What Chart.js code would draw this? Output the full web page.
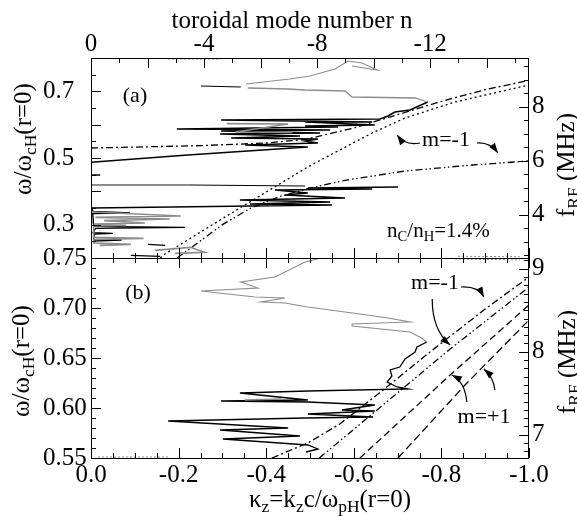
<!DOCTYPE html>
<html>
<head>
<meta charset="utf-8">
<script src="https://cdn.jsdelivr.net/npm/chart.js@4.4.1/dist/chart.umd.min.js"></script>
<style>
  body { margin: 0; background: #fff; }
  #wrap { position: relative; width: 577px; height: 516px; font-family: "Liberation Serif", "Times New Roman", serif; color: #000; }
  canvas { position: absolute; left: 0; top: 0; }
  .lbl { position: absolute; white-space: nowrap; line-height: 1; }
  .ctr { transform: translate(-50%, -50%); }
  .rot { transform: translate(-50%, -50%) rotate(-90deg); }
  .mid { transform: translateY(-50%); }
  sub { font-size: 70%; vertical-align: -0.3em; line-height: 0; }
</style>
</head>
<body>
<div id="wrap">
  <canvas id="chart-a" width="577" height="516"></canvas>
  <canvas id="chart-b" width="577" height="516"></canvas>

  <div class="lbl ctr" style="left:292px; top:19px; font-size:25px">toroidal mode number n</div>
  <div class="lbl ctr" style="left:330px; top:498px; font-size:25px">κ<sub>z</sub>=k<sub>z</sub>c/ω<sub>pH</sub>(r=0)</div>
  <div class="lbl rot" style="left:22px; top:139px; font-size:25px">ω/ω<sub>cH</sub>(r=0)</div>
  <div class="lbl rot" style="left:20px; top:361px; font-size:25px">ω/ω<sub>cH</sub>(r=0)</div>
  <div class="lbl rot" style="left:565px; top:165px; font-size:25px">f<sub>RF</sub> (MHz)</div>
  <div class="lbl rot" style="left:566px; top:362px; font-size:25px">f<sub>RF</sub> (MHz)</div>

  <div class="lbl ctr" style="left:135px; top:95px; font-size:22px">(a)</div>
  <div class="lbl ctr" style="left:138px; top:292px; font-size:22px">(b)</div>
  <div class="lbl ctr" style="left:446px; top:139px; font-size:22px">m=-1</div>
  <div class="lbl mid" style="left:387px; top:230px; font-size:21px">n<sub>C</sub>/n<sub>H</sub>=1.4%</div>
  <div class="lbl ctr" style="left:435px; top:282px; font-size:22px">m=-1</div>
  <div class="lbl ctr" style="left:484px; top:416px; font-size:22px">m=+1</div>
</div>

<script>
// axis ticks
const kappaTicks = [0, -0.2, -0.4, -0.6, -0.8, -1.0];
const nTicks = [0, -4, -8, -12];
const aOmegaTicks = [0.3, 0.5, 0.7];
const aFreqTicks = [4, 6, 8];
const bOmegaTicks = [0.55, 0.60, 0.65, 0.70, 0.75];
const bFreqTicks = [7, 8, 9];

// panel (a): [kz, omega] pairs
const aUpperDashDot = [[0, 0.530], [-0.25, 0.537], [-0.40, 0.545], [-0.49, 0.556], [-0.60, 0.590], [-0.70, 0.630], [-0.80, 0.670], [-0.90, 0.705], [-1.0, 0.733]];
const aDotted = [[-0.158, 0.200], [-0.171, 0.214], [-0.336, 0.347], [-0.491, 0.470], [-0.546, 0.509], [-0.642, 0.575], [-0.717, 0.620], [-0.831, 0.668], [-1.0, 0.719]];
const aLowerDashDot = [[-0.196, 0.200], [-0.205, 0.208], [-0.30, 0.300], [-0.365, 0.350], [-0.432, 0.385], [-0.495, 0.408], [-0.58, 0.433], [-0.717, 0.461], [-0.87, 0.479], [-1.0, 0.491]];

const aGrayTop = [[-0.354, 0.722], [-0.454, 0.737], [-0.500, 0.746], [-0.557, 0.767], [-0.587, 0.791], [-0.619, 0.785], [-0.653, 0.764], [-0.596, 0.776]];
const aBlackTop = [[-0.251, 0.716], [-0.342, 0.713]];
const aGrayMid = [[-0.358, 0.710], [-0.450, 0.707], [-0.489, 0.704], [-0.580, 0.701], [-0.596, 0.683], [-0.740, 0.680], [-0.769, 0.668]];
const aBlackMid = [[-0.769, 0.668], [-0.728, 0.644], [-0.694, 0.638], [-0.678, 0.626], [-0.660, 0.617], [-0.297, 0.614], [-0.642, 0.608],
  [-0.489, 0.608], [-0.648, 0.599], [-0.489, 0.596], [-0.564, 0.593], [-0.196, 0.587], [-0.546, 0.584], [-0.297, 0.581], [-0.523, 0.575],
  [-0.295, 0.572], [-0.477, 0.566], [-0.320, 0.560], [-0.518, 0.557], [-0.489, 0.551], [-0.518, 0.545], [-0.352, 0.539], [-0.495, 0.533],
  [-0.221, 0.509], [0, 0.487]];
const aGrayMidLow = [[-0.31, 0.603], [-0.45, 0.602], [-0.33, 0.578], [-0.46, 0.577]];
const aBlackShort = [[0, 0.449], [-0.021, 0.449]];
const aGrayLine = [[0, 0.419], [-0.226, 0.419]];
const aBlackLine = [[-0.226, 0.419], [-0.489, 0.416]];
const aBlackLow = [[-0.701, 0.413], [-0.495, 0.410], [-0.642, 0.407], [-0.420, 0.404], [-0.495, 0.395], [-0.443, 0.389], [-0.580, 0.380],
  [-0.340, 0.374], [-0.546, 0.368], [-0.363, 0.362], [-0.550, 0.359], [0, 0.350], [-0.005, 0.340], [-0.089, 0.335], [-0.004, 0.333],
  [-0.006, 0.295], [-0.215, 0.292], [-0.010, 0.289], [-0.005, 0.276], [-0.050, 0.274], [-0.008, 0.272], [-0.006, 0.256],
  [-0.070, 0.254], [-0.006, 0.251]];
const aGrayLow = [[-0.003, 0.338], [-0.205, 0.326], [-0.010, 0.322], [-0.180, 0.317], [-0.030, 0.312], [-0.123, 0.305], [-0.006, 0.302],
  [-0.080, 0.298], [-0.006, 0.296], [-0.006, 0.262], [-0.120, 0.259], [-0.006, 0.256], [-0.006, 0.245], [-0.091, 0.241], [-0.020, 0.238]];
const aBlackBottom1 = [[-0.130, 0.241], [-0.169, 0.238]];
const aBlackBottom2 = [[-0.091, 0.208], [-0.158, 0.205]];
const aGrayBottom = [[-0.146, 0.223], [-0.226, 0.232], [-0.260, 0.217], [-0.192, 0.214]];
const aEdgeTop = [[-0.176, 0.797], [-0.297, 0.797]];
const aEdgeBottom = [[-0.838, 0.205], [-0.979, 0.204]];

// panel (b)
const bDashDot1 = [[-0.413, 0.550], [-0.495, 0.565], [-0.568, 0.584], [-0.667, 0.618], [-0.774, 0.656], [-0.900, 0.699], [-1.0, 0.731]];
const bDashDot2 = [[-0.521, 0.550], [-0.546, 0.559], [-0.683, 0.609], [-0.820, 0.659], [-1.0, 0.721]];
const bDashed1 = [[-0.614, 0.550], [-0.820, 0.633], [-1.0, 0.703]];
const bDashed2 = [[-0.701, 0.550], [-0.854, 0.623], [-1.0, 0.688]];

const bGray = [[-0.534, 0.751], [-0.489, 0.746], [-0.420, 0.731], [-0.342, 0.726], [-0.381, 0.720], [-0.251, 0.717], [-0.374, 0.711],
  [-0.443, 0.710], [-0.388, 0.706], [-0.443, 0.705], [-0.495, 0.701], [-0.614, 0.694], [-0.678, 0.690], [-0.728, 0.686], [-0.596, 0.684],
  [-0.596, 0.682], [-0.728, 0.676], [-0.751, 0.671], [-0.767, 0.666]];
const bBlack = [[-0.767, 0.666], [-0.744, 0.661], [-0.740, 0.656], [-0.717, 0.649], [-0.705, 0.641], [-0.683, 0.638], [-0.687, 0.632],
  [-0.676, 0.626], [-0.699, 0.621], [-0.724, 0.619], [-0.495, 0.617], [-0.340, 0.615], [-0.450, 0.610], [-0.495, 0.608], [-0.297, 0.607],
  [-0.495, 0.606], [-0.648, 0.603], [-0.573, 0.598], [-0.648, 0.597], [-0.495, 0.594], [-0.644, 0.591], [-0.489, 0.590], [-0.176, 0.587],
  [-0.450, 0.580], [-0.295, 0.578], [-0.477, 0.572], [-0.301, 0.569], [-0.495, 0.563], [-0.518, 0.559], [-0.491, 0.556]];
const bGrayLow = [[-0.351, 0.608], [-0.434, 0.609]];
const bEdgeTop = [[-0.831, 0.749], [-0.979, 0.748]];
const bEdgeBottom = [[-0.016, 0.551], [-0.180, 0.551]];

const SERIF = '"Liberation Serif", "Times New Roman", serif';
Chart.defaults.font.family = SERIF;
Chart.defaults.color = '#000';

const BLACK = '#000000';
const GRAY = '#8c8c8c';
const DASHDOT = [7, 3, 2, 3];
const DASHDOTDOT = [7, 3, 1.5, 2.5, 1.5, 3];

const trace = (pts, color, width, dash) => ({
  data: pts.map(([x, y]) => ({ x, y })),
  showLine: true,
  pointRadius: 0,
  borderColor: color,
  borderWidth: width,
  borderDash: dash || [],
  fill: false,
});

// inward ticks and frame
const framePlugin = {
  id: 'frame',
  afterDatasetsDraw(chart, args, opts) {
    const { ctx, chartArea: a } = chart;
    ctx.save();
    ctx.strokeStyle = '#000';
    ctx.lineWidth = 1;
    ctx.strokeRect(a.left + 0.5, a.top + 0.5, a.right - a.left - 1, a.bottom - a.top);
    (opts.sides || []).forEach(({ scale, side, minor, major }) => {
      const s = chart.scales[scale];
      const lo = Math.min(s.min, s.max), hi = Math.max(s.min, s.max);
      const i0 = Math.ceil(lo / minor - 1e-6), i1 = Math.floor(hi / minor + 1e-6);
      for (let i = i0; i <= i1; i++) {
        const v = i * minor;
        const r = v / major;
        const len = Math.abs(r - Math.round(r)) < 1e-6 ? 10 : 5;
        const p = Math.round(s.getPixelForValue(v)) + 0.5;
        ctx.beginPath();
        if (side === 'left') { ctx.moveTo(a.left, p); ctx.lineTo(a.left + len, p); }
        if (side === 'right') { ctx.moveTo(a.right, p); ctx.lineTo(a.right - len, p); }
        if (side === 'top') { ctx.moveTo(p, a.top); ctx.lineTo(p, a.top + len); }
        if (side === 'bottom') { ctx.moveTo(p, a.bottom); ctx.lineTo(p, a.bottom - len); }
        ctx.stroke();
      }
    });
    ctx.restore();
  }
};

// curved pointers next to the m labels
const arrowPlugin = {
  id: 'arrows',
  afterDatasetsDraw(chart, args, opts) {
    const { ctx, scales: { x, y } } = chart;
    const P = p => [x.getPixelForValue(p[0]), y.getPixelForValue(p[1])];
    ctx.save();
    ctx.strokeStyle = '#000';
    ctx.fillStyle = '#000';
    ctx.lineWidth = 1.2;
    (opts.list || []).forEach(([from, ctrl, to]) => {
      const [x0, y0] = P(from), [cx, cy] = P(ctrl), [x1, y1] = P(to);
      ctx.beginPath();
      ctx.moveTo(x0, y0);
      ctx.quadraticCurveTo(cx, cy, x1, y1);
      ctx.stroke();
      const ang = Math.atan2(y1 - cy, x1 - cx);
      const c = Math.cos(ang), s = Math.sin(ang);
      ctx.beginPath();
      ctx.moveTo(x1, y1);
      ctx.lineTo(x1 - 10 * c + 3.5 * s, y1 - 10 * s - 3.5 * c);
      ctx.lineTo(x1 - 10 * c - 3.5 * s, y1 - 10 * s + 3.5 * c);
      ctx.closePath();
      ctx.fill();
    });
    ctx.restore();
  }
};

const tickFont = { family: SERIF, size: 25, lineHeight: 1 };
const noGrid = { display: false, drawTicks: false };

const yLeft = (min, max, ticks, digits) => ({
  type: 'linear', position: 'left', min, max,
  grid: noGrid, border: { display: false },
  afterFit: s => { s.width = 48; },
  afterBuildTicks: s => { s.ticks = ticks.map(v => ({ value: v })); },
  ticks: { crossAlign: 'far', font: tickFont, callback: v => v.toFixed(digits) },
});

const yRight = (min, max, ticks) => ({
  type: 'linear', position: 'right', min, max,
  grid: noGrid, border: { display: false },
  afterFit: s => { s.width = 48; },
  afterBuildTicks: s => { s.ticks = ticks.map(v => ({ value: v })); },
  ticks: { padding: 3, font: tickFont, callback: v => String(v) },
});

const chartA = new Chart(document.getElementById('chart-a'), {
  type: 'scatter',
  data: {
    datasets: [
      trace(aGrayTop, GRAY, 1.2),
      trace(aGrayMid, GRAY, 1.3),
      trace(aGrayMidLow, GRAY, 1.6),
      trace(aGrayLow, GRAY, 1.6),
      trace(aGrayBottom, GRAY, 1.6),
      trace(aGrayLine, GRAY, 2.2),
      trace(aEdgeTop, GRAY, 1, [2, 2]),
      trace(aEdgeBottom, GRAY, 1, [2, 2]),
      trace(aBlackTop, BLACK, 1.2),
      trace(aBlackMid, BLACK, 1.5),
      trace(aBlackShort, BLACK, 1.5),
      trace(aBlackLine, BLACK, 1),
      trace(aBlackLow, BLACK, 1.4),
      trace(aBlackBottom1, BLACK, 1.2),
      trace(aBlackBottom2, BLACK, 1.2),
      trace(aUpperDashDot, BLACK, 1.3, DASHDOT),
      trace(aDotted, BLACK, 1.3, [2, 3]),
      trace(aLowerDashDot, BLACK, 1.3, DASHDOTDOT),
    ],
  },
  options: {
    responsive: false,
    animation: false,
    devicePixelRatio: 1,
    layout: { padding: { left: 43, right: 0, top: 0, bottom: 258 } },
    plugins: {
      legend: { display: false },
      tooltip: { enabled: false },
      frame: {
        sides: [
          { scale: 'y', side: 'left', minor: 0.05, major: 0.1 },
          { scale: 'yRight', side: 'right', minor: 0.5, major: 2 },
          { scale: 'xTop', side: 'top', minor: 1, major: 2 },
          { scale: 'x', side: 'bottom', minor: 0.05, major: 0.2 },
        ],
      },
      arrows: {
        list: [
          [[-0.751, 0.545], [-0.717, 0.536], [-0.699, 0.569]],
          [[-0.881, 0.545], [-0.911, 0.548], [-0.929, 0.515]],
        ],
      },
    },
    scales: {
      x: { type: 'linear', min: -1, max: 0, reverse: true, display: false },
      xTop: {
        type: 'linear', position: 'top', min: -15.5, max: 0, reverse: true,
        grid: noGrid, border: { display: false },
        afterFit: s => { s.height = 58; },
        afterBuildTicks: s => { s.ticks = nTicks.map(v => ({ value: v })); },
        ticks: { padding: 1, maxRotation: 0, font: tickFont, callback: v => String(v) },
      },
      y: yLeft(0.2, 0.8, aOmegaTicks, 1),
      yRight: yRight(2.40, 9.80, aFreqTicks),
    },
  },
  plugins: [framePlugin, arrowPlugin],
});

const chartB = new Chart(document.getElementById('chart-b'), {
  type: 'scatter',
  data: {
    datasets: [
      trace(bGray, GRAY, 1.1),
      trace(bGrayLow, GRAY, 1.6),
      trace(bEdgeTop, GRAY, 1, [2, 2]),
      trace(bEdgeBottom, GRAY, 1, [2, 2]),
      trace(bBlack, BLACK, 1.3),
      trace(bDashDot1, BLACK, 1.3, DASHDOT),
      trace(bDashDot2, BLACK, 1.3, DASHDOTDOT),
      trace(bDashed1, BLACK, 1.3, [7, 4]),
      trace(bDashed2, BLACK, 1.3, [8, 4]),
    ],
  },
  options: {
    responsive: false,
    animation: false,
    devicePixelRatio: 1,
    layout: { padding: { left: 43, right: 0, top: 258, bottom: 0 } },
    plugins: {
      legend: { display: false },
      tooltip: { enabled: false },
      frame: {
        sides: [
          { scale: 'y', side: 'left', minor: 0.01, major: 0.05 },
          { scale: 'yRight', side: 'right', minor: 0.1, major: 1 },
          { scale: 'x', side: 'top', minor: 0.05, major: 0.2 },
          { scale: 'x', side: 'bottom', minor: 0.05, major: 0.2 },
        ],
      },
      arrows: {
        list: [
          [[-0.845, 0.721], [-0.884, 0.722], [-0.897, 0.711]],
          [[-0.779, 0.709], [-0.779, 0.678], [-0.820, 0.663]],
          [[-0.858, 0.606], [-0.854, 0.626], [-0.824, 0.633]],
          [[-0.922, 0.618], [-0.920, 0.630], [-0.897, 0.639]],
        ],
      },
    },
    scales: {
      x: {
        type: 'linear', position: 'bottom', min: -1, max: 0, reverse: true,
        grid: noGrid, border: { display: false },
        afterFit: s => { s.height = 58; },
        afterBuildTicks: s => { s.ticks = kappaTicks.map(v => ({ value: v })); },
        ticks: { padding: 5, maxRotation: 0, font: tickFont, callback: v => v.toFixed(1) },
      },
      y: yLeft(0.55, 0.75, bOmegaTicks, 2),
      yRight: yRight(6.72, 9.13, bFreqTicks),
    },
  },
  plugins: [framePlugin, arrowPlugin],
});
</script>
</body>
</html>
